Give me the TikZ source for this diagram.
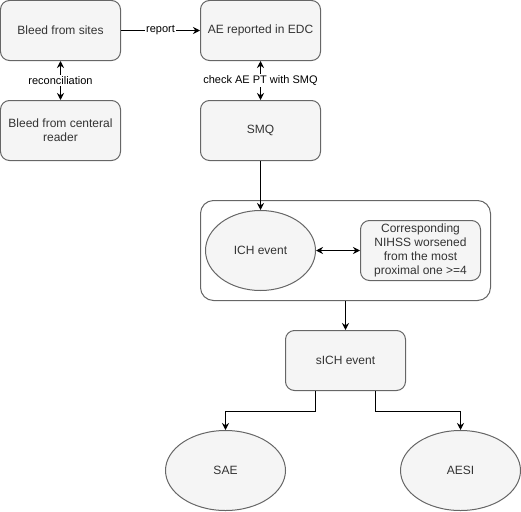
\documentclass[tikz,border=0pt]{standalone}
\usepackage{fontspec}
\setmainfont{Liberation Sans}
\usetikzlibrary{arrows.meta,shapes.geometric}
\definecolor{boxfill}{HTML}{F5F5F5}
\definecolor{boxline}{HTML}{666666}
\definecolor{boxtext}{HTML}{333333}
\tikzset{
  flowbox/.style={draw=boxline, fill=boxfill, rounded corners=9pt, minimum width=120pt, minimum height=60pt, text=boxtext, align=center, inner sep=2pt, font=\fontsize{12}{14}\selectfont},
  evtoval/.style={ellipse, draw=boxline, fill=boxfill, minimum height=80pt, text=boxtext, inner sep=1pt, font=\fontsize{12}{14}\selectfont},
  edgelabel/.style={fill=white, inner sep=1pt, font=\fontsize{11}{13}\selectfont},
  flow/.style={-{Stealth[length=7pt,width=7pt]}, line width=1pt},
  twoway/.style={{Stealth[length=7pt,width=7pt]}-{Stealth[length=7pt,width=7pt]}, line width=1pt},
}
\begin{document}
\begin{tikzpicture}[x=1pt, y=-1pt, line width=1pt]
  \useasboundingbox (-0.5,-0.5) rectangle (520.5,510.5);

  % top row
  \node[flowbox] (sites) at (60,30) {Bleed from sites};
  \node[flowbox] (edc) at (260,30) {AE reported in EDC};
  \node[flowbox] (central) at (60,130) {Bleed from centeral\\reader};
  \node[flowbox] (smq) at (260,130) {SMQ};

  % ICH group
  \node[draw=boxline, rounded corners=13pt, minimum width=290pt, minimum height=100pt] (ichgroup) at (345,250) {};
  \node[evtoval, minimum width=110pt] (ich) at (260,250) {ICH event};
  \node[flowbox, minimum height=60pt] (nihss) at (420,250) {Corresponding\\NIHSS worsened\\from the most\\proximal one >=4};

  % lower part
  \node[flowbox] (sich) at (345,360) {sICH event};
  \node[evtoval, minimum width=120pt] (sae) at (225,470) {SAE};
  \node[evtoval, minimum width=120pt] (aesi) at (460,470) {AESI};

  \draw[flow] (sites) -- (edc) node[midway, edgelabel] {report};
  \draw[twoway] (sites) -- (central) node[midway, edgelabel] {reconciliation};
  \draw[twoway] (edc) -- (smq) node[midway, edgelabel] {check AE PT with SMQ};
  \draw[flow] (smq) -- (ich);
  \draw[twoway] (ich) -- (nihss);
  \draw[flow] (ichgroup) -- (sich);
  \draw[flow] ([xshift=-30pt]sich.south) -- ++(0,20) -| (sae.north);
  \draw[flow] ([xshift=30pt]sich.south) -- ++(0,20) -| (aesi.north);
\end{tikzpicture}
\end{document}
